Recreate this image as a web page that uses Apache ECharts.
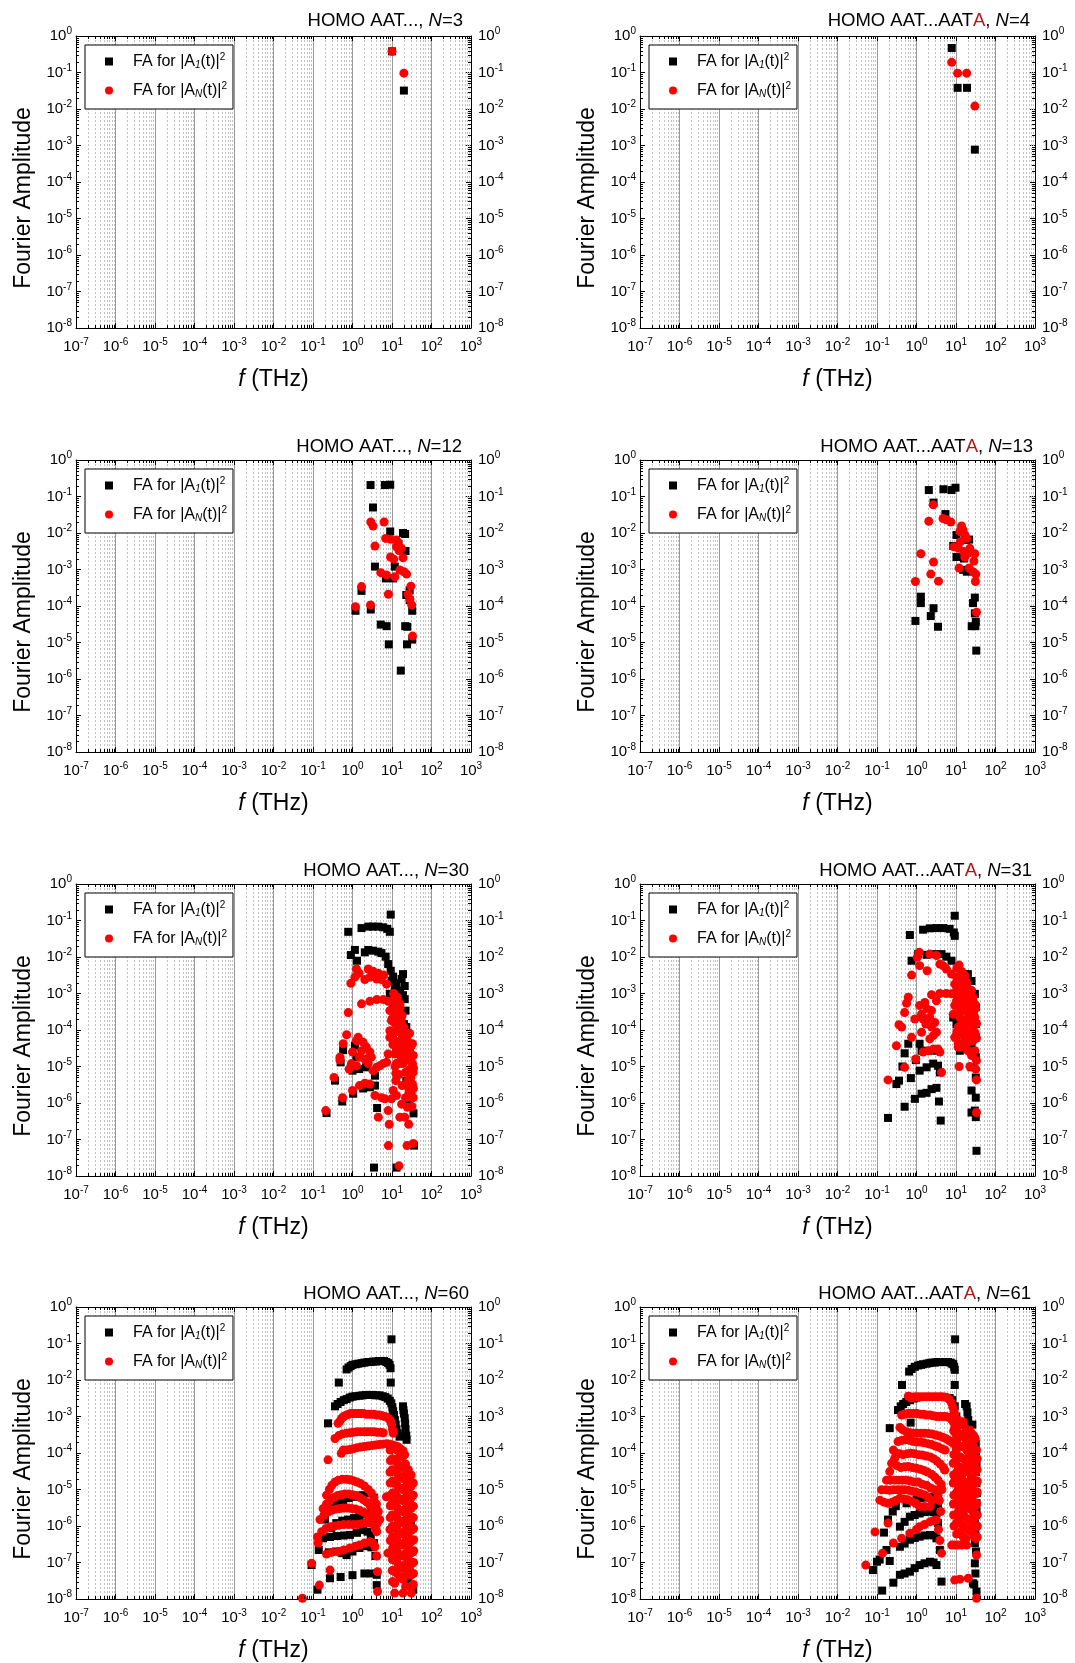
<!DOCTYPE html>
<html><head><meta charset="utf-8">
<script src="https://cdn.jsdelivr.net/npm/echarts@6/dist/echarts.min.js"></script>
<style>html,body{margin:0;padding:0;background:#fff}#c{width:1075px;height:1663px}</style>
</head><body><div id="c"></div>
<script>
const FONT = '"Liberation Sans", Arial, Helvetica, sans-serif';

// ---------- data: [f (THz), Fourier amplitude] ----------
const fa1_N3 = [[10,0.38],[20,0.032]];
const faN_N3 = [[10,0.38],[20,0.096]];

const fa1_N4 = [[7.8,0.47],[11,0.038],[19,0.038],[30,7.7e-4]];
const faN_N4 = [[7.8,0.19],[11,0.096],[18.6,0.096],[30,0.012]];

const fa1_N12 = [[2.86,0.206],[6.6,0.206],[9.0,0.21],[3.3,0.050],[9,0.011],[19,0.010],[21.5,0.0094],[14.6,5e-3],[22,3.2e-3],[3.7,1.2e-3],[11.8,1.2e-3],[7,5.7e-4],[10.7,5.7e-4],[28,2.7e-4],[1.69,2.6e-4],[1.19,7.4e-5],[2.9,8e-5],[32.5,7.4e-5],[5.2,3.1e-5],[7.3,2.8e-5],[21.6,2.8e-5],[24.4,2.7e-5],[8.3,8.9e-6],[24,8.9e-6],[32.5,1.2e-5],[16.7,1.7e-6],[28,1.45e-4],[23,2e-4]];
const faN_N12 = [[2.9,0.020],[3.3,0.0155],[6.3,0.020],[3.7,4.4e-3],[6.9,7.1e-3],[9.2,6.7e-3],[13,4.2e-3],[15,3.3e-3],[17.3,3.8e-3],[9.2,2.2e-3],[11.1,1.9e-3],[19,2.1e-3],[5.2,8.2e-4],[7.2,7.1e-4],[11.8,6.3e-4],[15.8,9.7e-4],[20,8.7e-4],[23.4,7.5e-4],[1.69,3.4e-4],[30,3.5e-4],[8.1,2.1e-4],[25.6,2.1e-4],[28.4,1.5e-4],[31.5,1.07e-4],[1.19,9.6e-5],[2.86,1.07e-4],[33,1.5e-5],[13,6.4e-3],[14.2,5.5e-3]];

const fa1_N13 = [[2.05,0.15],[4.8,0.158],[7.7,0.15],[9.7,0.174],[2.7,0.068],[5.4,0.033],[10.3,8.8e-3],[17.7,6.4e-3],[21.5,6.6e-3],[8.5,4.4e-3],[10.3,2.2e-3],[15.8,2e-3],[15.2,9.8e-4],[18.8,8.7e-4],[1.29,1.8e-4],[1.29,1.2e-4],[2.7,8.7e-5],[2.3,5.3e-5],[0.94,3.9e-5],[3.5,2.7e-5],[30,1.7e-4],[27,1.2e-4],[30,6.3e-5],[31.7,3.7e-5],[25,2.8e-5],[31,2.8e-5],[32.6,6e-6]];
const faN_N13 = [[2.65,0.059],[2.05,0.021],[4.7,0.025],[5.7,0.023],[7.4,0.020],[13.8,0.0155],[15.2,0.012],[12.5,0.011],[16.7,8.9e-3],[18.5,7.1e-3],[13,5.8e-3],[8.8,4.2e-3],[11.6,3.8e-3],[15.8,3.1e-3],[22.4,3.8e-3],[20.4,2.8e-3],[30,2.7e-3],[28.4,1.7e-3],[16.7,2.2e-3],[1.29,2.7e-3],[2.7,1.6e-3],[12,1.1e-3],[21.5,1.1e-3],[2.3,7.5e-4],[27,8.7e-4],[31.7,7.5e-4],[3.6,4.8e-4],[0.94,4.7e-4],[31,4.7e-4],[33,6.7e-5]];

const fa1_N30 = [[9.3,0.145],[0.78,0.049],[1.69,0.062],[2.5,0.068],[3.3,0.068],[4.5,0.068],[6.0,0.065],[7.6,0.059],[8.8,0.049],[0.91,0.0113],[1.15,0.0156],[1.3,7.9e-3],[2.05,0.0134],[2.5,0.0156],[3.3,0.0149],[4.5,0.014],[5.4,0.0128],[6.9,0.0102],[8,6.4e-3],[9.3,4.2e-3],[10.7,2.9e-3],[11.8,1.5e-3],[19,3.4e-3],[21,1.6e-3],[8.8,9.8e-4],[11.8,7.8e-4],[17.5,7.8e-4],[21,7e-4],[10.7,3.8e-4],[22,3.4e-4],[9.7,2.2e-3],[17.5,2.5e-3],[13,1.9e-3],[16,1.2e-3],[19,9e-4],[0.58,2.8e-5],[0.5,1.3e-5],[0.36,4.1e-6],[0.55,1.1e-6],[0.22,5.3e-7],[1.0,7.7e-6],[1.04,1.8e-6],[1.47,8.5e-6],[1.86,2.5e-6],[2.75,2.7e-6],[2.2,9.5e-6],[4.2,7.3e-7],[3.7,3e-6],[3.7,5.6e-6],[13,1.7e-8],[3.5,1.7e-8],[35,5.2e-7],[36,6.8e-8],[26,9.3e-7],[31,2.2e-6],[23,4.1e-6],[14.3,1.2e-5],[10.7,6.3e-5],[20,1.45e-4],[23,1.2e-4],[1.15,3.7e-5],[1.26,1.8e-5]];
const faN_N30 = [[1.26,4.7e-3],[1.47,3.6e-3],[2.5,4.7e-3],[3.3,4.1e-3],[4.5,3.6e-3],[6.2,3.2e-3],[7.3,1.8e-3],[5.4,2.4e-3],[4.1,2.5e-3],[2.75,2.8e-3],[2.05,2.4e-3],[1.15,2.8e-3],[0.91,1.9e-3],[1.69,5.2e-4],[2.75,6.1e-4],[4.1,6.8e-4],[6,6.8e-4],[8,6.1e-4],[10.7,6.3e-4],[13,5.7e-4],[15.8,5.2e-4],[0.78,3e-4],[8.8,3.4e-4],[11.8,2.7e-4],[14.3,2.2e-4],[9.7,1.8e-4],[13,1.45e-4],[17.5,1.45e-4],[8.8,9.6e-5],[11.8,8.7e-5],[15.8,8.7e-5],[21,7.8e-5],[28,8.1e-5],[8.8,6.3e-5],[11.8,5.1e-5],[15.8,4.6e-5],[26,4.6e-5],[33,4.2e-5],[19,3.4e-5],[28,2.7e-5],[34.5,2e-5],[26,1.6e-5],[33,1.2e-5],[34.5,6.9e-6],[33,3.3e-6],[34.5,1.4e-6],[28,4.1e-6],[22,1.4e-6],[24.5,7.6e-7],[21,4.1e-7],[26.5,2.6e-7],[24,6.8e-8],[34.5,7.8e-8],[11.8,2.2e-5],[8,2.2e-5],[7.3,1.3e-5],[6,1.2e-5],[4.9,1.05e-5],[4.1,9.5e-6],[13,1.2e-5],[12.5,6.5e-6],[12.5,4.1e-6],[13,1.6e-6],[23,3e-6],[8.5,2.6e-7],[8.1,6.8e-8],[8,6.2e-7],[6.6,1.3e-6],[4.5,4.1e-7],[3.7,1.6e-6],[5.4,1.4e-6],[2.75,3.3e-6],[2.05,3.5e-6],[1.5,3e-6],[1,2.2e-6],[0.56,1.4e-6],[0.21,6.2e-7],[0.34,5e-6],[0.48,1.8e-5],[0.48,1.5e-5],[0.58,4.2e-5],[0.71,7.4e-5],[0.82,8.5e-6],[1,2.5e-5],[1.26,5.1e-5],[1.39,6.3e-5],[1.86,4.6e-5],[2.25,3.4e-5],[2.75,2.5e-5],[3.0,1.8e-5],[1.5,1.8e-5],[2.05,1.6e-5],[1.69,2.7e-5],[2.5,1.2e-5],[3.3,7.7e-6],[0.94,1.2e-5],[1.26,1.05e-5],[15,1.9e-8],[9.7,1.3e-6],[10.7,2.2e-6],[15.8,4.1e-7],[17.5,9.3e-7],[11,1e-3],[13.5,8e-4],[16,4e-4],[18,2.5e-4],[20,1.2e-4],[22,6e-5],[25,3e-5],[30,1.5e-5],[12,4e-4],[14,3e-4],[17,2e-4],[19,1e-4],[24,5.5e-5],[30,3.5e-5],[35,9e-6],[30,5e-6],[35,2.5e-6],[27,2e-6],[32,8e-7],[10,2e-4],[12,1.5e-4],[16,1e-4],[18,6e-5],[21,2.5e-5],[24,1.5e-5],[27,8e-6],[10.5,4e-5],[13,3e-5],[16,2e-5],[19,1.2e-5],[22,7e-6],[25,4e-6],[29,2.5e-6],[31,9e-6],[12,1e-5],[15,6e-6],[18,3e-6]];

const fa1_N31 = [[9.3,0.135],[0.68,0.040],[1.47,0.056],[2.17,0.061],[3.2,0.062],[4.7,0.062],[6.9,0.059],[8.8,0.047],[9.3,0.038],[0.75,7.9e-3],[1.1,0.012],[1.8,0.0115],[2.9,0.012],[4.3,0.012],[5.7,0.0102],[7.7,7.9e-3],[20,3.4e-3],[24.7,2.2e-3],[30,9.8e-4],[31.7,4.2e-4],[31.7,1.45e-4],[31.7,6.3e-5],[31.7,1.8e-5],[31.7,5e-6],[31.7,1.4e-6],[30,6.2e-7],[31.7,4.1e-7],[33,4.9e-8],[24.7,5.5e-7],[24.7,2.2e-6],[24.7,9.5e-6],[24.7,3.4e-5],[20,1.45e-4],[16.7,3.4e-4],[12.5,2.7e-5],[10.3,6.3e-5],[10.3,1.45e-4],[8.5,2.2e-4],[27,6e-4],[22,1e-3],[28,2e-4],[26,8e-5],[0.19,3.9e-7],[0.31,3.3e-6],[0.36,4.1e-6],[0.5,7.9e-7],[0.44,1e-5],[0.5,2.3e-5],[0.62,4.2e-5],[0.72,4.8e-6],[0.91,1.3e-6],[0.96,1.5e-5],[1.2,4.2e-5],[1.34,1.8e-6],[1.8,1.9e-6],[2.4,2.4e-6],[3.2,2.6e-6],[3.7,1.1e-6],[4.1,3.3e-7],[1.2,7.7e-6],[1.8,9.5e-6],[2.65,1.2e-5],[3.5,1.05e-5],[3.9,6.9e-6],[2,2.7e-5],[1.34,2.7e-5],[3.2,2.7e-5]];
const faN_N31 = [[1.17,0.0134],[1.04,9.8e-3],[2.17,0.012],[3.2,0.011],[3.9,6.4e-3],[4.7,5.8e-3],[5.7,4.7e-3],[7.7,3.4e-3],[1.86,4.2e-3],[0.75,3.2e-3],[11.3,2.8e-3],[13.8,3.4e-3],[16.7,3.1e-3],[9.3,1.8e-3],[13.8,1.2e-3],[18.5,9.8e-4],[2.4,9.3e-4],[3.9,1e-3],[5.7,1e-3],[7.7,9.8e-4],[10.3,6.3e-4],[12.5,4.2e-4],[15.2,5.2e-4],[20,5.7e-4],[27,7.9e-4],[30,5.2e-4],[24.7,2.7e-4],[30,2.2e-4],[18.5,2e-4],[12.5,2.2e-4],[8.5,2.7e-4],[11.3,1.2e-4],[15.2,1.07e-4],[22.4,1.3e-4],[30,8.7e-5],[9.3,6.3e-5],[11.3,4.3e-5],[18.5,4.2e-5],[27,5.1e-5],[30,2.7e-5],[24.7,2e-5],[33,1.45e-5],[12,1e-5],[22.4,1e-5],[31.7,8.5e-6],[33,4.3e-6],[33,5.5e-7],[0.62,7.9e-4],[0.56,5.4e-4],[0.5,3e-4],[0.36,1.4e-4],[0.42,1.2e-4],[0.31,3.7e-5],[0.5,9.5e-6],[0.19,4.3e-6],[0.75,6.3e-5],[0.91,2e-4],[0.96,1.6e-5],[1.2,4.7e-4],[1.34,2.7e-4],[1.62,5.7e-4],[1.86,3.8e-4],[2.17,2.2e-4],[1.47,2e-4],[1.34,8.7e-5],[1.72,1.45e-4],[2.4,1.2e-4],[2.9,1.6e-4],[3.2,8.7e-5],[2.65,7e-5],[2.17,5.7e-5],[2,2.7e-5],[1.47,2.5e-5],[2.65,3e-5],[3.5,3e-5],[3.9,2.5e-5],[4.3,6.9e-6],[1.2,5.8e-3],[3.2,6.3e-4],[2.4,3.4e-4],[11.3,3.4e-5],[13.8,3.4e-5],[10.3,2.8e-3],[12.5,2e-3],[15.2,1.8e-3],[18.5,2e-3],[10.3,1.2e-3],[11.3,7.9e-4],[16.7,7.9e-4],[22.4,4.2e-4],[9.3,4.7e-4],[27,1.8e-4],[13.8,7.8e-5],[24.7,7e-5],[20,2.7e-5],[16.7,5.7e-5],[10.5,5e-3],[12,6e-3],[14,4e-3],[16,2.5e-3],[11,1.5e-3],[13,9e-4],[15,6e-4],[17,3.5e-4],[19,1.5e-3],[21,1e-3],[23,6e-4],[25,1.2e-3],[28,3e-4],[26,1.5e-4],[12,3e-4],[14,1.6e-4],[17,1.2e-4],[21,8e-5],[10.5,9e-5],[31,4e-4],[33,1.5e-4],[33,6e-5]];

const fa1_N60 = [[9.7,0.13],
 [0.71,0.0195],[0.8,0.022],[0.9,0.024],[1.0,0.026],[1.2,0.027],[1.4,0.028],[1.7,0.029],[2.0,0.030],[2.4,0.031],[2.8,0.031],[3.3,0.032],[3.9,0.032],[4.6,0.033],[5.4,0.033],[6.3,0.033],[7.2,0.031],[8.0,0.029],[8.7,0.026],[9.2,0.021],[9.3,8.5e-3],[0.45,8.5e-3],
 [0.36,1.9e-3],[0.42,2.2e-3],[0.5,2.5e-3],[0.6,2.8e-3],[0.71,3e-3],[0.85,3.3e-3],[1.0,3.5e-3],[1.2,3.6e-3],[1.5,3.7e-3],[1.8,3.8e-3],[2.2,3.9e-3],[2.7,3.9e-3],[3.3,3.9e-3],[4.0,3.8e-3],[4.8,3.8e-3],[5.8,3.6e-3],[6.8,3.4e-3],[7.8,3.1e-3],[8.8,2.7e-3],[9.6,2.3e-3],[10.2,1.8e-3],[10.7,1.4e-3],[11.2,1.1e-3],[11.8,8e-4],[12.4,6e-4],[13,4.5e-4],[14,3.5e-4],[15.5,2.8e-4],
 [19,1.9e-3],[19.5,1.5e-3],[20,1.2e-3],[21,9e-4],[21.5,6.5e-4],[22,4.5e-4],[23,3e-4],[23.4,2.3e-4],[0.24,6.5e-4],
 [0.3,3.5e-6],[0.4,4.5e-6],[0.58,5.1e-6],[0.8,5.8e-6],[1.26,6.3e-6],[1.8,7e-6],[2.75,7.8e-6],[3.5,6e-6],[4.0,3.5e-6],
 [0.2,1.5e-6],[0.29,8.7e-7],[0.39,1.2e-6],[0.55,1.4e-6],[0.78,1.5e-6],[1.1,1.65e-6],[1.5,1.8e-6],[2.1,2.1e-6],[3,2.5e-6],[3.5,2e-6],[3.7,1.2e-6],
 [0.18,4.6e-7],[0.27,5e-7],[0.4,5.3e-7],[0.6,5.5e-7],[0.86,5.7e-7],[1.3,6.5e-7],[1.86,7.7e-7],[2.4,7e-7],[2.9,5.5e-7],[3.5,3.4e-7],
 [0.14,2.2e-7],[0.25,1.9e-7],[0.39,2e-7],[0.55,1.8e-7],[0.71,1.6e-7],[1.0,2e-7],[1.5,2.5e-7],[2.2,2.8e-7],[3.0,2.6e-7],[3.8,1.5e-7],
 [0.092,8.5e-8],[0.13,1.8e-8],[0.27,3.7e-8],[0.5,4e-8],[1.0,4.5e-8],[2,5e-8],[3,5e-8],[4.1,4.6e-8],[4.1,2.4e-8],
 [26,3e-8],[34.5,1.8e-8],[30,1e-6],[33,2e-7],[28,5e-6]];
const faN_N60 = [
 [0.43,6.5e-4],[0.48,7.5e-4],[0.53,8.9e-4],[0.6,1e-3],[0.7,1.1e-3],[0.8,1.15e-3],[0.9,1.2e-3],[1.05,1.2e-3],[1.2,1.2e-3],[1.4,1.2e-3],[1.6,1.2e-3],[1.9,1.2e-3],[2.2,1.15e-3],[2.6,1.15e-3],[3.0,1.15e-3],[3.5,1.15e-3],[4.1,1.1e-3],[4.8,1.1e-3],[5.6,1.05e-3],[6.5,1e-3],[7.5,9.5e-4],[8.5,8.5e-4],[9.3,7.5e-4],[9.8,6e-4],[10.3,4.5e-4],[10.7,3.5e-4],
 [0.36,2.5e-4],[0.45,3e-4],[0.55,3.3e-4],[0.7,3.5e-4],[0.86,3.6e-4],[1.05,3.7e-4],[1.3,3.8e-4],[1.6,3.8e-4],[2.0,3.8e-4],[2.4,3.8e-4],[2.9,3.8e-4],[3.5,3.8e-4],[4.2,3.7e-4],[5.0,3.7e-4],[6.0,3.6e-4],
 [0.58,1.2e-4],[0.7,1.2e-4],[0.86,1.25e-4],[1.05,1.3e-4],[1.3,1.4e-4],[1.6,1.45e-4],[2.0,1.5e-4],[2.5,1.55e-4],[3.1,1.6e-4],[3.8,1.65e-4],[4.7,1.7e-4],[5.8,1.75e-4],[7.2,1.8e-4],[8.7,1.75e-4],[10.5,1.65e-4],[12.5,1.55e-4],[14.5,1.45e-4],[16.5,1.3e-4],[19,1.15e-4],[21,9e-5],
 [0.24,6.5e-5],[0.52,9.8e-5],
 [0.22,7e-6],[0.26,1e-5],[0.3,1.3e-5],[0.36,1.6e-5],[0.44,1.8e-5],[0.55,1.9e-5],[0.7,1.9e-5],[0.86,1.85e-5],[1.05,1.75e-5],[1.3,1.6e-5],[1.6,1.45e-5],[2.0,1.25e-5],[2.5,1e-5],[3.0,8e-6],[3.5,6e-6],[4.0,4e-6],[4.5,2.5e-6],[4.9,1.5e-6],
 [0.18,3e-6],[0.22,4e-6],[0.27,5e-6],[0.34,6e-6],[0.42,6.8e-6],[0.52,7.2e-6],[0.65,7.5e-6],[0.8,7.5e-6],[1.0,7.2e-6],[1.25,6.8e-6],[1.55,6e-6],[1.9,5.2e-6],[2.3,4.5e-6],[2.8,3.6e-6],[3.3,2.8e-6],[3.8,2e-6],[4.3,1.2e-6],
 [0.15,1.5e-6],[0.19,2e-6],[0.24,2.4e-6],[0.3,2.7e-6],[0.38,2.9e-6],[0.48,3e-6],[0.6,3.1e-6],[0.75,3.1e-6],[0.95,3e-6],[1.2,2.9e-6],[1.5,2.7e-6],[1.9,2.4e-6],[2.4,2e-6],[2.9,1.6e-6],[3.4,1.2e-6],[3.9,8e-7],
 [0.13,5e-7],[0.166,7e-7],[0.21,8.5e-7],[0.27,9.5e-7],[0.35,1e-6],[0.45,1.05e-6],[0.6,1.1e-6],[0.8,1.1e-6],[1.05,1.1e-6],[1.35,1.1e-6],[1.7,1.15e-6],[2.1,1.2e-6],[2.6,1.25e-6],[3.1,1.2e-6],[3.6,1e-6],[4.1,7e-7],
 [0.135,3.4e-7],[0.22,1.7e-7],[0.3,1.9e-7],[0.44,2e-7],[0.6,2.2e-7],[0.86,2.5e-7],[1.2,2.8e-7],[1.5,3e-7],[2.0,3.4e-7],[2.75,3.7e-7],[3.3,3.4e-7],[3.7,2.7e-7],[4.1,1.5e-7],
 [0.092,9.5e-8],[0.27,6.2e-8],[0.145,2.4e-8],[0.054,1.05e-8],[4.3,5.6e-8],[4.3,1.6e-8],
 [9.0,1.2e-4],[9.1,6.2e-5],[8.9,3e-5],[9.0,1.5e-5],[9.2,7e-6],[9.1,3.6e-6],[9.0,1.7e-6],[8.9,8e-7],[9.1,4e-7],[9.0,1.9e-7],
 [10.2,1.5e-4],[10.3,7e-5],[10.1,3.5e-5],[10.2,1.7e-5],[10.4,8e-6],[10.2,4.2e-6],[10.1,2e-6],[10.3,1e-6],[10.2,5e-7],[10.4,2.5e-7],[10.2,1.2e-7],[10.1,6e-8],[10.3,3e-8],
 [11.7,1.3e-4],[11.6,6.5e-5],[11.8,3.2e-5],[11.7,1.6e-5],[11.5,8e-6],[11.7,4e-6],[11.9,2e-6],[11.7,1e-6],[11.6,5e-7],[11.8,2.5e-7],[11.7,1.2e-7],[11.5,6e-8],[11.7,2.7e-8],[11.7,1.45e-8],
 [13.5,1.2e-4],[13.4,5.5e-5],[13.6,2.7e-5],[13.5,1.3e-5],[13.3,6.5e-6],[13.5,3.2e-6],[13.7,1.6e-6],[13.5,8e-7],[13.4,4e-7],[13.6,2e-7],[13.5,1e-7],[13.5,5e-8],
 [15.8,9e-5],[15.6,4.5e-5],[15.9,2.2e-5],[15.8,1.1e-5],[16,5.5e-6],[15.7,2.7e-6],[15.8,1.3e-6],[16,6.5e-7],[15.8,3.2e-7],[15.6,1.6e-7],[15.8,8e-8],[15.9,4e-8],
 [18.6,8e-5],[18.4,4e-5],[18.7,2e-5],[18.6,1e-5],[18.5,5e-6],[18.8,2.5e-6],[18.6,1.2e-6],[18.4,6e-7],[18.7,3e-7],[18.6,1.5e-7],[18.5,7e-8],[18.6,3.5e-8],[19,1.45e-8],
 [22,5e-5],[21.7,2.5e-5],[22.2,1.2e-5],[22,6e-6],[21.8,3e-6],[22.1,1.5e-6],[22,7.5e-7],[21.7,3.7e-7],[22.2,1.8e-7],[22,9e-8],[21.8,4.5e-8],[22,2.2e-8],
 [26,3.5e-5],[25.7,1.7e-5],[26.3,8.5e-6],[26,4.2e-6],[25.8,2.1e-6],[26.2,1e-6],[26,5e-7],[25.7,2.5e-7],[26.2,1.2e-7],[26,6e-8],[28.2,6.2e-8],[30.9,1.45e-8],
 [30.5,2.5e-5],[30.2,1.2e-5],[30.8,6e-6],[30.5,3e-6],[30.2,1.5e-6],[30.7,7.5e-7],[30.5,3.7e-7],[30.3,1.8e-7],[30.6,9e-8],[30.5,4.5e-8],[30.4,2.2e-8],
 [34.7,1.5e-5],[34.5,7e-6],[35,3.5e-6],[34.7,1.7e-6],[35.3,8.5e-7],[35.5,4.2e-7],[35.5,2.1e-7],[35.3,1e-7],[35,5e-8],[34.7,2.5e-8],
 [7.2,6.3e-6],[7.9,1.8e-7],[11.7,5.6e-8]];

const fa1_N61 = [[9.5,0.13],
 [0.65,0.017],[0.75,0.02],[0.91,0.023],[1.1,0.025],[1.3,0.026],[1.47,0.027],[1.8,0.028],[2.1,0.029],[2.4,0.030],[2.9,0.030],[3.4,0.031],[3.9,0.031],[4.6,0.031],[5.4,0.031],[6.3,0.031],[7.3,0.030],[8.0,0.028],[8.5,0.027],[9.0,0.023],[9.3,0.019],[9.3,7.3e-3],[0.43,7.3e-3],
 [0.34,1.5e-3],[0.4,1.9e-3],[0.46,2.2e-3],[0.55,2.5e-3],[0.68,2.8e-3],[0.85,3.1e-3],[1.0,3.3e-3],[1.2,3.4e-3],[6.9,3.2e-3],[8,2.8e-3],[9.3,1.9e-3],[10.2,1e-3],[11.2,2.8e-4],
 [17,2.2e-3],[18.6,1.9e-3],[19.5,1.3e-3],[20.4,8e-4],[21.5,5e-4],[22.4,2.8e-4],[24.5,1.2e-4],[26,6e-4],
 [0.71,6.8e-4],[0.21,4.8e-4],
 [0.56,4.2e-6],[0.75,4.8e-6],[1.0,5.3e-6],[1.2,5.8e-6],[1.6,6e-6],[2.0,6.2e-6],[2.4,6.3e-6],[2.8,6e-6],[3.2,5.1e-6],[3.5,3.5e-6],
 [0.38,9.6e-7],[0.5,1.3e-6],[0.68,1.8e-6],[0.9,2e-6],[1.2,2.2e-6],[1.6,2.4e-6],[2.2,2.5e-6],[2.7,2.4e-6],[3.2,2.2e-6],[3.5,1.2e-6],
 [0.38,2.7e-7],[0.5,3.3e-7],[0.68,4.2e-7],[0.9,4.7e-7],[1.2,5.1e-7],[1.6,5.5e-7],[2.2,5.7e-7],[2.7,5.5e-7],[3.2,4.6e-7],[3.9,2.2e-7],
 [0.38,4.6e-8],[0.5,5e-8],[0.68,5.6e-8],[0.9,7e-8],[1.2,8.5e-8],[1.6,9.5e-8],[2.2,1.05e-7],[2.7,1e-7],[3.2,8.5e-8],[4.3,3e-8],
 [0.135,1.7e-8],[0.26,2.8e-8],[0.079,6.2e-8],[0.1,1.05e-7],[0.117,1.2e-7],[0.21,1.1e-7],[0.15,6.6e-7],[0.174,2.2e-7],[0.19,1.5e-6],[0.25,2.5e-6],[0.3,3.5e-6],
 [27,2.7e-8],[33,1.6e-8],[30,9.5e-8],[30,3.4e-7],[30,1.2e-6],[33,4.2e-6],[33,1.5e-5],[33,5.2e-5],[31.6,1.8e-4],[29,2.5e-8],[31,5e-8],[32,2e-7],[31,6e-7],[33,2.5e-6],[34,8e-6],[32,3e-5],[32,1e-4]];
const faN_N61 = [
 [0.62,3.6e-3],[0.7,3.4e-3],[0.74,3.2e-3],[0.85,3.4e-3],[1.0,3.5e-3],[1.2,3.5e-3],[1.45,3.5e-3],[1.75,3.5e-3],[2.1,3.5e-3],[2.5,3.5e-3],[3.0,3.5e-3],[3.6,3.5e-3],[4.3,3.5e-3],[5.1,3.4e-3],[5.9,3.3e-3],[6.8,2.9e-3],[7.6,2.4e-3],[8.3,1.8e-3],[8.9,1.4e-3],[9.3,1.1e-3],
 [0.42,1.1e-3],[0.5,1.15e-3],[0.6,1.2e-3],[0.72,1.2e-3],[0.86,1.2e-3],[1.03,1.2e-3],[1.24,1.15e-3],[1.5,1.15e-3],[1.8,1.1e-3],[2.2,1.1e-3],[2.6,1.05e-3],[3.2,1e-3],[3.8,1e-3],[4.6,1e-3],[5.5,1e-3],[6.5,9.5e-4],[7.6,8.5e-4],[8.6,7e-4],[9.3,5e-4],[9.7,3.5e-4],
 [0.38,5e-4],[0.45,4.3e-4],[0.56,3.8e-4],[0.7,3.6e-4],[0.86,3.5e-4],[1.05,3.5e-4],[1.3,3.5e-4],[1.6,3.5e-4],[2.0,3.4e-4],[2.5,3.3e-4],[3.1,3.1e-4],[3.8,2.9e-4],[4.6,2.7e-4],[5.5,2.5e-4],[6.6,2.2e-4],[7.8,2e-4],
 [0.34,2.05e-4],[0.42,2.2e-4],[0.52,2.3e-4],[0.64,2.25e-4],[0.8,2.1e-4],[1.0,2e-4],[1.25,2e-4],[1.55,1.9e-4],[1.95,1.8e-4],[2.4,1.7e-4],[3.0,1.55e-4],[3.6,1.45e-4],[4.4,1.3e-4],[5.3,1.2e-4],
 [0.26,1.2e-4],[0.3,1e-4],[0.38,9.5e-5],[0.46,9e-5],[0.58,9.5e-5],[0.72,9.8e-5],[0.9,9.5e-5],[1.12,9e-5],[1.4,8.8e-5],[1.75,8.3e-5],[2.2,7.8e-5],[2.7,7e-5],[3.3,6e-5],[4.0,5e-5],[4.8,4e-5],
 [0.21,3.1e-5],[0.234,5.2e-5],[0.28,7.1e-5],[0.32,4.5e-5],[0.4,4e-5],[0.5,4.2e-5],[0.62,4.3e-5],[0.78,4e-5],[1.0,3.8e-5],[1.25,3.6e-5],[1.55,3.3e-5],[1.9,3e-5],[2.4,2.6e-5],[2.9,2.2e-5],[3.5,1.8e-5],[4.2,1.4e-5],[5.2,3.4e-5],
 [0.174,1.8e-5],[0.22,1.8e-5],[0.28,1.8e-5],[0.36,1.8e-5],[0.45,1.8e-5],[0.56,1.8e-5],[0.7,1.7e-5],[0.88,1.6e-5],[1.1,1.6e-5],[1.4,1.4e-5],[1.8,1.3e-5],[2.3,1.1e-5],[2.9,9.8e-6],[3.5,7e-6],
 [0.13,9.8e-6],[0.17,9.8e-6],[0.21,9.5e-6],[0.26,9.8e-6],[0.33,9.8e-6],[0.41,9.8e-6],[0.5,9.8e-6],[0.62,9.5e-6],[0.78,9e-6],[0.98,8.5e-6],[1.25,7.8e-6],[1.6,7.1e-6],[2.0,6e-6],[2.5,5e-6],
 [0.118,5.1e-6],[0.15,4.5e-6],[0.19,4.2e-6],[0.24,4.5e-6],[0.3,5e-6],[0.38,5.8e-6],[0.48,5.5e-6],[0.6,5.2e-6],[0.75,4.8e-6],[0.95,4.2e-6],[1.2,3.4e-6],[1.6,3.4e-6],[2.2,3.4e-6],
 [0.089,6.9e-7],[0.19,1.2e-6],[0.26,3.4e-7],[0.42,4.6e-7],[0.68,6.3e-7],[1.0,8e-7],[1.2,9.6e-7],[1.6,1.1e-6],[2.2,1.3e-6],[2.7,1.4e-6],[3.2,1.45e-6],
 [3.6,8e-7],[3.9,4e-7],[4.3,1.8e-7],[4.1,2.5e-6],[3.8,5e-6],[4.4,1e-5],
 [0.138,1.8e-7],[0.052,8.5e-8],[7.8,3e-7],[9.5,3e-7],[11.2,3e-7],[14,3e-7],[18.6,3e-7],[9.3,3.3e-8],[12.5,3.5e-8],[20.4,3.7e-8],[33.1,1.6e-7],[33.1,1.05e-8],
 [8.7,4e-4],[8.6,1.8e-4],[8.8,9e-5],[8.5,5.2e-5],[8.7,2.5e-5],[8.5,1.5e-5],[8.8,7e-6],[8.6,4e-6],[8.7,2e-6],[8.9,1e-6],
 [10.2,5e-4],[10.3,2.5e-4],[10.1,1.2e-4],[10.2,6e-5],[10.4,3e-5],[10.2,1.5e-5],[10.1,8e-6],[10.3,4.2e-6],[10.2,2e-6],[10.2,1.2e-6],[10.4,6e-7],
 [11.5,7e-4],[11.6,3.5e-4],[11.4,1.7e-4],[11.5,8e-5],[11.7,4e-5],[11.5,2e-5],[11.3,1e-5],[11.6,5e-6],[11.5,2.5e-6],[11.7,1.2e-6],[12.5,6.3e-7],
 [13,6e-4],[13.2,3e-4],[12.9,1.5e-4],[12.5,7.9e-5],[13.1,4e-5],[13.8,2.2e-5],[13,1.1e-5],[13.2,6e-6],[12.9,3e-6],[13.1,1.5e-6],[13,7e-7],
 [15.2,6e-4],[15.4,3e-4],[15.1,1.5e-4],[15.3,7e-5],[15.2,3.5e-5],[15.5,1.7e-5],[15.2,8.5e-6],[15.2,6.3e-6],[15.4,4.2e-6],[15.1,2.1e-6],[15.3,1e-6],[15.2,5e-7],
 [18,4.5e-4],[18.3,2.2e-4],[18.6,1.2e-4],[17.8,6e-5],[18.2,3e-5],[18,1.5e-5],[18.3,7.5e-6],[17.9,3.7e-6],[16.6,1.8e-6],[18.2,9e-7],[18,4.5e-7],
 [21,4e-4],[20.7,2e-4],[21.2,1e-4],[20.4,3.4e-5],[21,5e-5],[20.8,1.2e-5],[21.3,6e-6],[21,3e-6],[20.7,1.5e-6],[21.2,7.5e-7],
 [24.5,3.5e-4],[24.2,1.7e-4],[24.8,8.5e-5],[24.5,4.2e-5],[24.3,2.1e-5],[22.4,9.8e-6],[24.7,5e-6],[24.5,2.8e-6],[24.4,1.4e-6],[26.3,7.7e-7],
 [28,3e-4],[27.7,1.5e-4],[28.3,7.5e-5],[28,3.7e-5],[27.8,1.8e-5],[28.2,9e-6],[28,4.5e-6],[27.8,2.2e-6],[28.2,1.1e-6],[28,5.5e-7],
 [30.2,2.5e-4],[31.6,1.2e-4],[30.2,5.2e-5],[31.8,3e-5],[31.6,1.5e-5],[31.4,7.5e-6],[31.8,3.7e-6],[31.6,1.8e-6],[33.1,9.6e-7],[31.6,4.5e-7],
 [33.1,1.2e-4],[34.5,7e-5],[34.2,3.5e-5],[34.7,1.7e-5],[34.5,8.5e-6],[33.1,4.2e-6],[34.5,2e-6],[34.7,1e-6],[34.5,5e-7],
 [11.2,8e-4],[15.2,7.2e-4],[22.4,4.3e-4],[30.2,2.5e-4]];

// axis tick exponents
const xExponents = [-7,-6,-5,-4,-3,-2,-1,0,1,2,3];
const yExponents = [-8,-7,-6,-5,-4,-3,-2,-1,0];

// panel texts
const panelTitles = [
  'HOMO AAT..., {i|N}=3', 'HOMO AAT...AAT{r|A}, {i|N}=4',
  'HOMO AAT..., {i|N}=12', 'HOMO AAT...AAT{r|A}, {i|N}=13',
  'HOMO AAT..., {i|N}=30', 'HOMO AAT...AAT{r|A}, {i|N}=31',
  'HOMO AAT..., {i|N}=60', 'HOMO AAT...AAT{r|A}, {i|N}=61'
];
const seriesA1 = [fa1_N3, fa1_N4, fa1_N12, fa1_N13, fa1_N30, fa1_N31, fa1_N60, fa1_N61];
const seriesAN = [faN_N3, faN_N4, faN_N12, faN_N13, faN_N30, faN_N31, faN_N60, faN_N61];

// ---------- layout ----------
const COLS = [76, 640];
const ROWS = [36, 460, 884, 1307];
const PW = 395, PH = 292;
const titleRight = [612, 45, 613, 42, 606, 43, 606, 44];
const titleCY = [21, 21, 447, 446.5, 870.5, 870.5, 1293.5, 1293.5];

const chart = echarts.init(document.getElementById('c'), null, {renderer: 'canvas', width: 1075, height: 1663});

const labelRich = {
  b: {fontSize: 15, lineHeight: 15, fontFamily: FONT, color: '#000'},
  s: {fontSize: 10, lineHeight: 10, padding: [0, 0, 9, 0], fontFamily: FONT, color: '#000'}
};
const fmt = v => '{b|10}{s|' + v + '}';

const grids = [], xAxes = [], yAxes = [], series = [], legends = [], titles = [];
for (let p = 0; p < 8; p++) {
  const L = COLS[p % 2], T = ROWS[Math.floor(p / 2)];
  grids.push({left: L, top: T, width: PW, height: PH, containLabel: false, outerBoundsMode: 'none'});
  xAxes.push({type: 'log', logBase: 10, gridIndex: p, min: 1e-7, max: 1e3, show: false, position: 'bottom'});
  yAxes.push({type: 'log', logBase: 10, gridIndex: p, min: 1e-8, max: 1, show: false, position: 'left'});
  const tickStyle = {show: true, inside: true, length: 5, lineStyle: {color: '#000', width: 1}};
  const lineStyle = {show: true, onZero: false, lineStyle: {color: '#000', width: 1}};
  xAxes.push({type: 'value', gridIndex: p, position: 'bottom', min: xExponents[0], max: xExponents[xExponents.length-1], interval: 1,
    axisLine: lineStyle, axisTick: tickStyle,
    axisLabel: {show: true, margin: 11, formatter: fmt, rich: labelRich, color: '#000', fontSize: 15, fontFamily: FONT},
    splitLine: {show: true, lineStyle: {color: '#9a9a9a', width: 1}}});
  xAxes.push({type: 'value', gridIndex: p, position: 'top', min: xExponents[0], max: xExponents[xExponents.length-1], interval: 1,
    axisLine: lineStyle, axisTick: tickStyle, axisLabel: {show: false}, splitLine: {show: false}});
  yAxes.push({type: 'value', gridIndex: p, position: 'left', min: yExponents[0], max: yExponents[yExponents.length-1], interval: 1,
    axisLine: lineStyle, axisTick: tickStyle,
    axisLabel: {show: true, margin: 4, formatter: fmt, rich: labelRich, color: '#000', fontSize: 15, fontFamily: FONT},
    splitLine: {show: false}});
  yAxes.push({type: 'value', gridIndex: p, position: 'right', min: yExponents[0], max: yExponents[yExponents.length-1], interval: 1,
    axisLine: lineStyle, axisTick: tickStyle,
    axisLabel: {show: true, margin: 7, formatter: fmt, rich: labelRich, color: '#000', fontSize: 15, fontFamily: FONT},
    splitLine: {show: false}});

  series.push({type: 'scatter', name: 'A1_' + p, xAxisIndex: 3 * p, yAxisIndex: 3 * p, data: seriesA1[p],
    symbol: 'rect', symbolSize: 8, itemStyle: {color: '#000000', opacity: 1}, z: 3, silent: true, animation: false});
  series.push({type: 'scatter', name: 'AN_' + p, xAxisIndex: 3 * p, yAxisIndex: 3 * p, data: seriesAN[p],
    symbol: 'circle', symbolSize: 9, itemStyle: {color: '#ff0000', opacity: 1}, z: 4, silent: true, animation: false});

  legends.push({
    left: L + 9, top: T + 9, orient: 'vertical', selectedMode: false,
    data: [{name: 'A1_' + p, icon: 'rect'}, {name: 'AN_' + p, icon: 'circle'}],
    itemWidth: 8, itemHeight: 8, itemGap: 9,
    padding: [6.5, 6, 8.5, 20],
    borderColor: '#000', borderWidth: 1, borderRadius: 0, backgroundColor: '#fff', z: 6,
    formatter: name => name.indexOf('A1_') === 0 ? 'FA for |A{sub|1}(t)|{sup|2}' : 'FA for |A{sub|N}(t)|{sup|2}',
    textStyle: {fontSize: 16, fontFamily: FONT, color: '#000', lineHeight: 20, padding: [0, 0, 0, 15],
      rich: {
        sub: {fontSize: 10, fontStyle: 'italic', lineHeight: 10, padding: [8, 0, 0, 0], fontFamily: FONT, color: '#000'},
        sup: {fontSize: 10, lineHeight: 10, padding: [0, 0, 9, 0], fontFamily: FONT, color: '#000'}
      }}
  });

  titles.push({
    text: panelTitles[p], right: titleRight[p], top: titleCY[p] - 10, padding: 0,
    textStyle: {fontSize: 18.5, fontWeight: 'normal', color: '#000', fontFamily: FONT, lineHeight: 20,
      rich: {
        i: {fontStyle: 'italic', fontSize: 18.5, fontFamily: FONT, color: '#000', lineHeight: 20},
        r: {fontSize: 18.5, fontFamily: FONT, color: '#b01818', lineHeight: 20}
      }}
  });
}

chart.setOption({
  backgroundColor: '#ffffff',
  animation: false,
  title: titles,
  grid: grids,
  xAxis: xAxes,
  yAxis: yAxes,
  legend: legends,
  series: series
});

// axis titles and logarithmic minor grid / ticks, placed through the chart's own log axes
const els = [];
for (let p = 0; p < 8; p++) {
  const L = COLS[p % 2], T = ROWS[Math.floor(p / 2)];
  els.push({type: 'text', x: L - 52, y: T + 162, rotation: Math.PI / 2, silent: true, z: 5,
    style: {text: 'Fourier Amplitude', fontSize: 23, fontFamily: FONT, fill: '#000', align: 'center', verticalAlign: 'middle'}});
  els.push({type: 'text', x: L + PW / 2, y: T + 344, silent: true, z: 5,
    style: {text: '{i|f} (THz)', fontSize: 23, fontFamily: FONT, fill: '#000', align: 'center', verticalAlign: 'middle',
      rich: {i: {fontStyle: 'italic', fontSize: 23, fontFamily: FONT, fill: '#000'}}}});
  for (let n = -7; n <= 2; n++) {
    for (let k = 2; k <= 9; k++) {
      const px = chart.convertToPixel({xAxisIndex: 3 * p}, k * Math.pow(10, n));
      const x = Math.round(px) + 0.5;
      els.push({type: 'line', silent: true, z: 1, shape: {x1: x, y1: T, x2: x, y2: T + PH},
        style: {stroke: '#c2c2c2', lineWidth: 1, lineDash: [2, 2]}});
      els.push({type: 'line', silent: true, z: 5, shape: {x1: x, y1: T + PH, x2: x, y2: T + PH - 3}, style: {stroke: '#000', lineWidth: 1}});
      els.push({type: 'line', silent: true, z: 5, shape: {x1: x, y1: T, x2: x, y2: T + 3}, style: {stroke: '#000', lineWidth: 1}});
    }
  }
  for (let n = -8; n <= -1; n++) {
    for (let k = 2; k <= 9; k++) {
      const py = chart.convertToPixel({yAxisIndex: 3 * p}, k * Math.pow(10, n));
      const y = Math.round(py) + 0.5;
      els.push({type: 'line', silent: true, z: 5, shape: {x1: L, y1: y, x2: L + 3, y2: y}, style: {stroke: '#000', lineWidth: 1}});
      els.push({type: 'line', silent: true, z: 5, shape: {x1: L + PW, y1: y, x2: L + PW - 3, y2: y}, style: {stroke: '#000', lineWidth: 1}});
    }
  }
}
chart.setOption({graphic: {elements: els}});
</script>
</body></html>
